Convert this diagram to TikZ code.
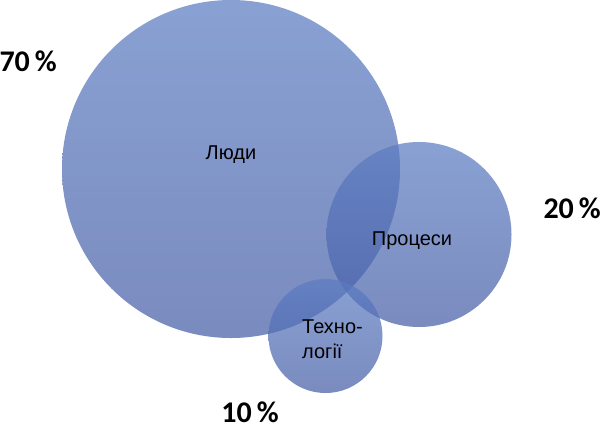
\documentclass[tikz,border=0pt]{standalone}
\usepackage{fontspec}
\setmainfont{Liberation Sans}
\newfontfamily\pctfont{Carlito}
\definecolor{ctop}{RGB}{92,124,194}
\definecolor{cbot}{RGB}{70,94,166}
\tikzset{
  blob/.style={circle, inner sep=0pt, top color=ctop, bottom color=cbot, fill opacity=0.72, draw=none},
  inlabel/.style={font=\fontsize{20}{25}\selectfont, text=black, inner sep=0pt},
  pct/.style={font=\pctfont\bfseries\fontsize{30}{34}\selectfont, text=black, inner sep=0pt}
}
\begin{document}
\begin{tikzpicture}[x=1pt,y=1pt]
\useasboundingbox (0,0) rectangle (601,-429);
\node[blob, minimum size=338pt] (people) at (231,-169) {};
\node[blob, minimum size=185pt] (proc) at (419,-234.5) {};
\node[blob, minimum size=114pt] (tech) at (325.5,-336) {};
\node[inlabel] (lpeople) at (231,-155) {Люди};
\node[inlabel] (lproc) at (412,-241) {Процеси};
\node[inlabel, align=left, anchor=west] (ltech) at (302,-339) {Техно-\\логії};
\node[pct, anchor=east] (p70) at (57,-61) {70\,\%};
\node[pct, anchor=east] (p20) at (601,-208) {20\,\%};
\node[pct] (p10) at (250,-412) {10\,\%};
\end{tikzpicture}
\end{document}
